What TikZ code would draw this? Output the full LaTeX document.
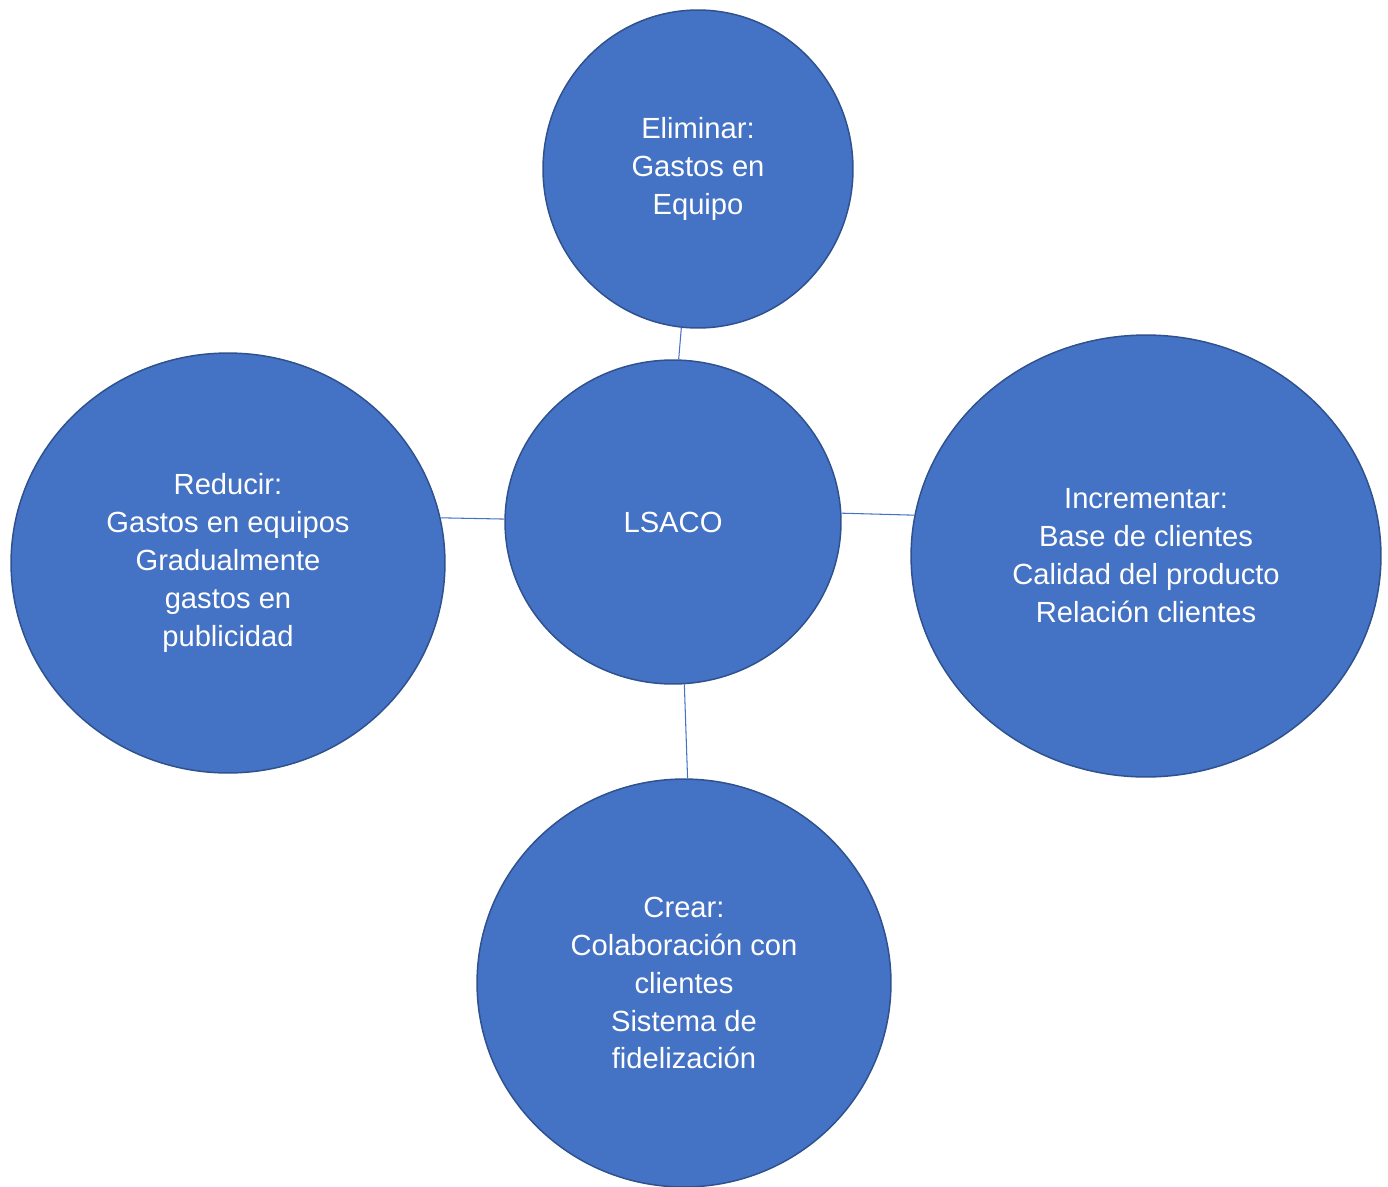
\documentclass[tikz,border=0pt]{standalone}
\usepackage{fontspec}
\setmainfont{Liberation Sans}
\usetikzlibrary{shapes.geometric}
\definecolor{relleno}{HTML}{4472C4}
\definecolor{borde}{HTML}{2F528F}

\begin{document}
\begin{tikzpicture}[x=0.02cm, y=-0.02cm]
	% Estilo comun de los circulos
	\tikzset{circulo/.style={ellipse, draw=borde, fill=relleno, line width=0.85pt, inner sep=0pt,
			text=white, align=center, font=\fontsize{16.6}{21.6}\selectfont},
		enlace/.style={draw=relleno, line width=0.6pt}}
	
	\useasboundingbox (0,0) rectangle (1388,1186);
	
	% Circulo central
	\node[circulo, minimum width=6.72cm, minimum height=6.48cm] (L) at (673,522) {LSACO};
	
	% Circulos alrededor
	\node[circulo, minimum width=6.2cm, minimum height=6.36cm] (E) at (698,169) {Eliminar:\\Gastos en\\Equipo};
	\node[circulo, minimum width=8.68cm, minimum height=8.4cm] (R) at (228,563) {Reducir:\\Gastos en equipos\\Gradualmente\\gastos en\\publicidad};
	\node[circulo, minimum width=9.4cm, minimum height=8.84cm] (I) at (1146,556) {Incrementar:\\Base de clientes\\Calidad del producto\\Relación clientes};
	\node[circulo, minimum width=8.28cm, minimum height=8.16cm] (C) at (684,983) {Crear:\\Colaboración con\\clientes\\Sistema de\\fidelización};
	
	% Enlaces con el centro
	\draw[enlace] (L.88) -- (E.264);
	\draw[enlace] (L.179) -- (R.12);
	\draw[enlace] (L.3) -- (I.170);
	\draw[enlace] (L.274) -- (C.89);
	
\end{tikzpicture}
\end{document}
